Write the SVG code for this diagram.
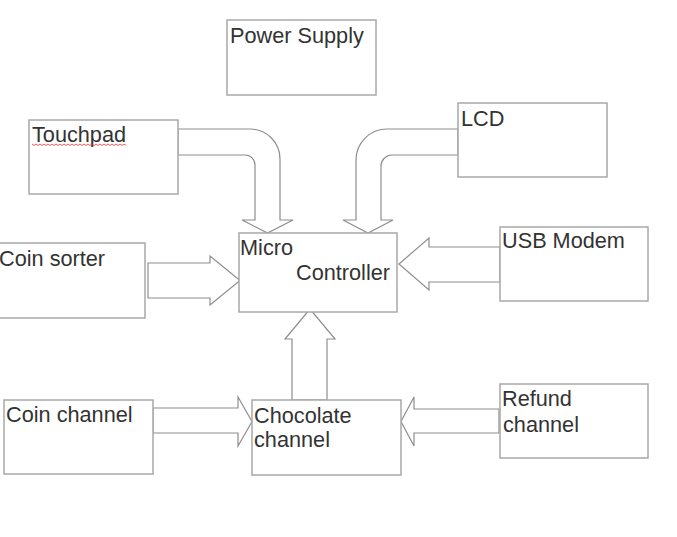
<svg xmlns="http://www.w3.org/2000/svg" width="677" height="537" viewBox="0 0 677 537">
<style>
.box{fill:#fff;stroke:#a8a8a8;stroke-width:1.5}
.arr{fill:#fff;stroke:#8e8e8e;stroke-width:1.2;stroke-linejoin:miter}
.t{font-family:"Liberation Sans",Arial,sans-serif;font-size:21.7px;fill:#333}
</style>
<rect width="677" height="537" fill="#fff"/>
<g id="connectors">
<path class="arr" d="M178,129 H250 A30,30 0 0 1 280,159 V220 H293 L267.5,233 L242,220 H255 V165 A10,10 0 0 0 245,155 H178 Z"/>
<path class="arr" d="M458,129 H387 A31,31 0 0 0 356,160 V220 H343 L368,233 L393,220 H381 V166 A11,11 0 0 1 392,155 H458 Z"/>
<polygon class="arr" points="148,263 210,263 210,256 240,280.5 210,305 210,298 148,298"/>
<polygon class="arr" points="500,247 429,247 429,238 399,264 429,290 429,282 500,282"/>
<polygon class="arr" points="292,400 292,339 285,339 310,309 335,339 327,339 327,400"/>
<polygon class="arr" points="153,408 238,408 238,397 252,421.5 238,446 238,433 153,433"/>
<polygon class="arr" points="499,409 414,409 414,397 401,421.5 414,446 414,433 499,433"/>
</g>
<g id="power-supply">
<rect class="box" x="227" y="20" width="149" height="75"/>
<text class="t" x="230" y="42.5">Power Supply</text>
</g>
<g id="touchpad">
<rect class="box" x="29" y="120" width="149" height="74"/>
<text class="t" x="32" y="141.5">Touchpad</text>
<path d="M32,144 l2,1.5 l2,-1.5 l2,1.5 l2,-1.5 l2,1.5 l2,-1.5 l2,1.5 l2,-1.5 l2,1.5 l2,-1.5 l2,1.5 l2,-1.5 l2,1.5 l2,-1.5 l2,1.5 l2,-1.5 l2,1.5 l2,-1.5 l2,1.5 l2,-1.5 l2,1.5 l2,-1.5 l2,1.5 l2,-1.5 l2,1.5 l2,-1.5 l2,1.5 l2,-1.5 l2,1.5 l2,-1.5 l2,1.5 l2,-1.5 l2,1.5 l2,-1.5 l2,1.5 l2,-1.5 l2,1.5 l2,-1.5 l2,1.5 l2,-1.5 l2,1.5 l2,-1.5 l2,1.5 l2,-1.5 l2,1.5 l2,-1.5 l2,1.5" fill="none" stroke="#e03030" stroke-width="0.8"/>
</g>
<g id="lcd">
<rect class="box" x="458" y="103" width="149" height="74"/>
<text class="t" x="461" y="125.5">LCD</text>
</g>
<g id="coin-sorter">
<rect class="box" x="-1" y="243" width="146" height="75"/>
<text class="t" x="-1" y="265.5">Coin sorter</text>
</g>
<g id="micro-controller">
<rect class="box" x="239" y="233" width="158" height="79"/>
<text class="t" x="240" y="255">Micro</text>
<text class="t" x="296" y="280">Controller</text>
</g>
<g id="usb-modem">
<rect class="box" x="500" y="227" width="148" height="74"/>
<text class="t" x="502" y="248">USB Modem</text>
</g>
<g id="coin-channel">
<rect class="box" x="4" y="400" width="149" height="74"/>
<text class="t" x="6" y="421.5">Coin channel</text>
</g>
<g id="chocolate-channel">
<rect class="box" x="252" y="400" width="149" height="75"/>
<text class="t" x="254" y="422.5">Chocolate</text>
<text class="t" x="254" y="446.5">channel</text>
</g>
<g id="refund-channel">
<rect class="box" x="500" y="384" width="148" height="74"/>
<text class="t" x="502" y="405.5">Refund</text>
<text class="t" x="503" y="432">channel</text>
</g>
</svg>
